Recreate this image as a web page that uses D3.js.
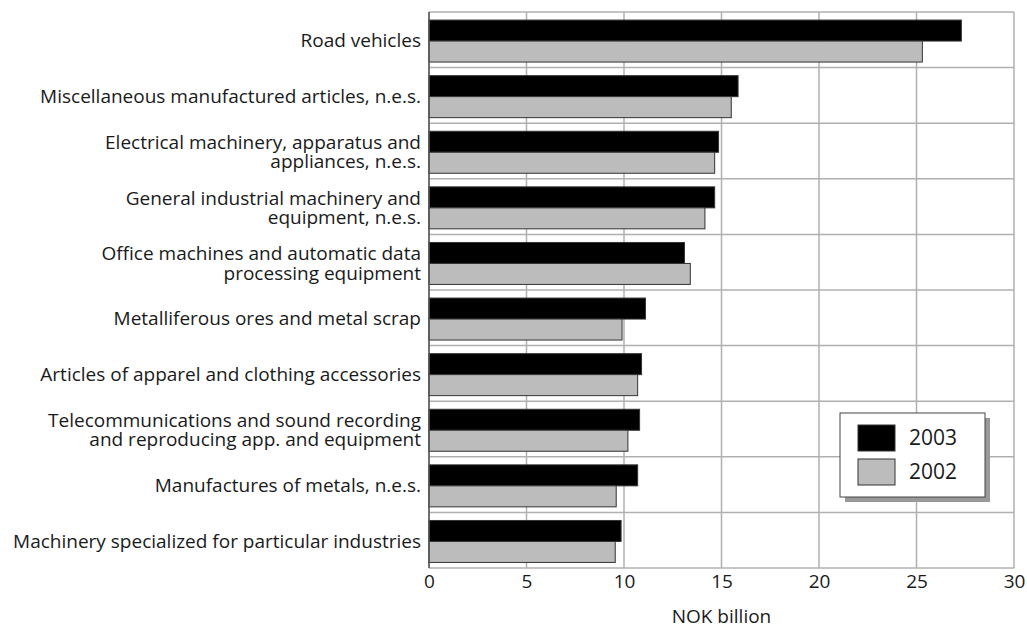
<!DOCTYPE html>
<html>
<head>
<meta charset="utf-8">
<script src="https://cdn.jsdelivr.net/npm/d3@7"></script>
<style>
  body { margin: 0; background: #fff; }
  text { font-family: "Open Sans", "Noto Sans", sans-serif; fill: #1a1a1a; }
</style>
</head>
<body>
<div id="chart"></div>
<script>
// Categories (top to bottom), each label split into lines
const categories = [
    ["Road vehicles"],
    ["Miscellaneous manufactured articles, n.e.s."],
    ["Electrical machinery, apparatus and", "appliances, n.e.s."],
    ["General industrial machinery and", "equipment, n.e.s."],
    ["Office machines and automatic data", "processing equipment"],
    ["Metalliferous ores and metal scrap"],
    ["Articles of apparel and clothing accessories"],
    ["Telecommunications and sound recording", "and reproducing app. and equipment"],
    ["Manufactures of metals, n.e.s."],
    ["Machinery specialized for particular industries"]
];

const years = ["2003", "2002"];

const values2003 = [27.3, 15.85, 14.85, 14.65, 13.1, 11.1, 10.9, 10.8, 10.7, 9.85];
const values2002 = [25.3, 15.5, 14.65, 14.15, 13.4, 9.9, 10.7, 10.2, 9.6, 9.55];

const xTicks = [0, 5, 10, 15, 20, 25, 30];

const config = {
    width: 1027,
    height: 631,
    margin: { left: 429, right: 13, top: 12, bottom: 63 }
};

const svg = d3.select('#chart').append('svg')
    .attr('width', config.width)
    .attr('height', config.height);

const innerW = config.width - config.margin.left - config.margin.right;
const innerH = config.height - config.margin.top - config.margin.bottom;

const chart = svg.append('g')
    .attr('transform', `translate(${config.margin.left},${config.margin.top})`);

// Scales
const xScale = d3.scaleLinear().domain([0, 30]).range([0, innerW]);
const yScale = d3.scaleBand().domain(d3.range(categories.length)).range([0, innerH]);
const bandH = yScale.bandwidth();
const ySub = d3.scaleBand().domain(years).range([bandH * 0.145, bandH * 0.9]);

const colors = { "2003": "#000000", "2002": "#bcbcbc" };

// Grid lines
chart.selectAll('.vgrid')
    .data(xTicks)
    .join('line')
    .attr('class', 'vgrid')
    .attr('x1', d => xScale(d)).attr('x2', d => xScale(d))
    .attr('y1', 0).attr('y2', innerH)
    .attr('stroke', '#b0b0b0')
    .attr('stroke-width', 1.5);

chart.selectAll('.hgrid')
    .data(d3.range(categories.length + 1))
    .join('line')
    .attr('class', 'hgrid')
    .attr('x1', 0).attr('x2', innerW)
    .attr('y1', i => i * yScale.step()).attr('y2', i => i * yScale.step())
    .attr('stroke', '#b0b0b0')
    .attr('stroke-width', 1.5);

// Bars
const rows = categories.map((c, i) => ({ i, v: { "2003": values2003[i], "2002": values2002[i] } }));

const rowG = chart.selectAll('.row')
    .data(rows)
    .join('g')
    .attr('class', 'row')
    .attr('transform', d => `translate(0,${yScale(d.i)})`);

rowG.selectAll('rect')
    .data(d => years.map(y => ({ year: y, value: d.v[y] })))
    .join('rect')
    .attr('x', xScale(0))
    .attr('y', d => ySub(d.year))
    .attr('width', d => xScale(d.value) - xScale(0))
    .attr('height', ySub.bandwidth())
    .attr('fill', d => colors[d.year])
    .attr('stroke', '#333')
    .attr('stroke-width', 1);

// Left vertical baseline
chart.append('line')
    .attr('x1', 0).attr('x2', 0)
    .attr('y1', 0).attr('y2', innerH)
    .attr('stroke', '#555')
    .attr('stroke-width', 1.5);

// Category labels
const labelG = chart.selectAll('.cat-label')
    .data(categories)
    .join('text')
    .attr('class', 'cat-label')
    .attr('text-anchor', 'end')
    .style('font-size', '19px')
    .attr('transform', (d, i) => `translate(-8,${yScale(i) + bandH / 2 + 1})`);

labelG.selectAll('tspan')
    .data(d => d.map((line, j) => ({ line, j, n: d.length })))
    .join('tspan')
    .attr('x', 0)
    .attr('y', d => (d.j - (d.n - 1) / 2) * 19.5)
    .attr('dy', '0.35em')
    .text(d => d.line);

// X axis
const xAxis = d3.axisBottom(xScale).tickValues(xTicks).tickSize(0).tickPadding(7);
const xAxisG = chart.append('g')
    .attr('transform', `translate(0,${innerH})`)
    .call(xAxis);
xAxisG.select('.domain').remove();
xAxisG.selectAll('text')
    .style('font-size', '19px')
    .style('font-family', '"Open Sans", "Noto Sans", sans-serif')
    .attr('fill', '#1a1a1a');

chart.append('text')
    .attr('x', innerW / 2)
    .attr('y', innerH + 55)
    .attr('text-anchor', 'middle')
    .style('font-size', '19px')
    .text('NOK billion');

// Legend
const legend = svg.append('g').attr('transform', 'translate(840,413)');
legend.append('rect')
    .attr('x', 5).attr('y', 5)
    .attr('width', 145).attr('height', 84)
    .attr('fill', '#999');
legend.append('rect')
    .attr('width', 145).attr('height', 84)
    .attr('fill', '#fff')
    .attr('stroke', '#444')
    .attr('stroke-width', 1);

const legItems = legend.selectAll('.leg-item')
    .data(years)
    .join('g')
    .attr('class', 'leg-item')
    .attr('transform', (d, i) => `translate(18,${12 + i * 34})`);

legItems.append('rect')
    .attr('width', 37).attr('height', 26)
    .attr('fill', d => colors[d])
    .attr('stroke', '#333');

legItems.append('text')
    .attr('x', 51).attr('y', 13)
    .attr('dy', '0.35em')
    .style('font-size', '21px')
    .text(d => d);
</script>
</body>
</html>
